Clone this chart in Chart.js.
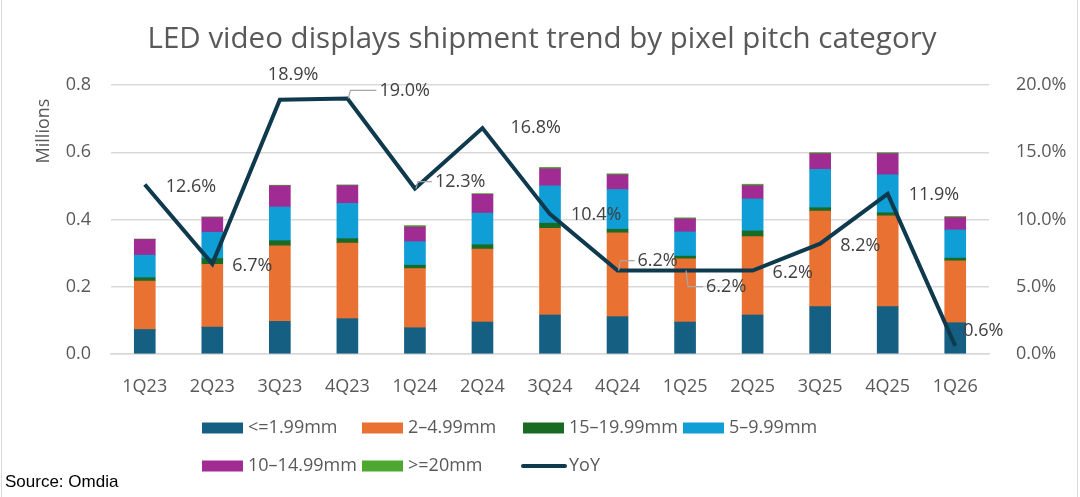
<!DOCTYPE html>
<html>
<head>
<meta charset="utf-8">
<script src="https://cdn.jsdelivr.net/npm/chart.js@4.4.1/dist/chart.umd.min.js"></script>
<style>
  html, body { margin: 0; padding: 0; background: #fff; }
  #wrap { width: 1080px; height: 497px; position: relative; }
</style>
</head>
<body>
<div id="wrap"><canvas id="chart" width="1080" height="497"></canvas></div>
<script>
/* ── DATA ─────────────────────────────────────────────────── */
const quarters = ['1Q23', '2Q23', '3Q23', '4Q23', '1Q24', '2Q24', '3Q24',
                  '4Q24', '1Q25', '2Q25', '3Q25', '4Q25', '1Q26'];

// shipments, millions of units
const pitchUnder2   = [0.073, 0.080, 0.097, 0.105, 0.078, 0.095, 0.116, 0.111, 0.095, 0.116, 0.141, 0.141, 0.093];
const pitch2to5     = [0.144, 0.187, 0.225, 0.225, 0.176, 0.217, 0.258, 0.249, 0.188, 0.233, 0.284, 0.270, 0.184];
const pitch15to20   = [0.010, 0.017, 0.015, 0.013, 0.010, 0.013, 0.015, 0.011, 0.008, 0.017, 0.010, 0.009, 0.008];
const pitch5to10    = [0.067, 0.078, 0.100, 0.105, 0.070, 0.094, 0.111, 0.118, 0.072, 0.095, 0.114, 0.113, 0.084];
const pitch10to15   = [0.047, 0.044, 0.063, 0.053, 0.044, 0.056, 0.051, 0.044, 0.039, 0.040, 0.047, 0.063, 0.037];
const pitchOver20   = [0.001, 0.002, 0.002, 0.002, 0.004, 0.002, 0.004, 0.003, 0.003, 0.004, 0.003, 0.003, 0.003];

// year-over-year growth, percent
const yoy = [12.6, 6.7, 18.9, 19.0, 12.3, 16.8, 10.4, 6.2, 6.2, 6.2, 8.2, 11.9, 0.6];

const leftTicks  = [0, 0.2, 0.4, 0.6, 0.8];
const rightTicks = [0, 5, 10, 15, 20];

/* ── STYLE ────────────────────────────────────────────────── */
const FONT  = "'Open Sans', 'Liberation Sans', sans-serif";
const GREY  = '#595959';
const GRID  = '#d9d9d9';
const LINE  = '#0f3a4e';

// label placement for the YoY points: [dx from point to text left, dy, leader]
const labelPlace = [
  [21, 2, null], [20, 2, null], [-12, -25, null], [32, -8, 'up'],
  [20, -7, 'up'], [28, 0, null], [21, 1, null], [20, -10, 'up'],
  [21, 16, 'down'], [20, 2, null], [20, 2, null], [21, 1, null], [8, -15, null]
];

/* ── PLUGIN: title, axis title, labels, legend, source ────── */
const decor = {
  id: 'decor',
  afterDatasetsDraw(chart) {
    const ctx = chart.ctx;
    const line = chart.getDatasetMeta(chart.data.datasets.length - 1);
    ctx.save();
    ctx.font = `18px ${FONT}`;
    ctx.textBaseline = 'middle';
    ctx.textAlign = 'left';
    line.data.forEach((pt, i) => {
      const [dx, dy, leader] = labelPlace[i];
      const tx = pt.x + dx, ty = pt.y + dy;
      if (leader) {
        ctx.strokeStyle = '#a6a6a6';
        ctx.lineWidth = 1.2;
        ctx.beginPath();
        ctx.moveTo(pt.x + 1, pt.y);
        ctx.lineTo(pt.x + 3, ty);
        ctx.lineTo(tx - 3, ty);
        ctx.stroke();
      }
      ctx.fillStyle = '#404040';
      ctx.fillText(yoy[i].toFixed(1) + '%', tx, ty);
    });
    ctx.restore();
  },
  afterDraw(chart) {
    const ctx = chart.ctx;
    ctx.save();

    // frame
    ctx.strokeStyle = GRID;
    ctx.lineWidth = 1;
    ctx.strokeRect(1.5, -1, 1076, 499);

    // title
    ctx.fillStyle = GREY;
    ctx.textAlign = 'center';
    ctx.textBaseline = 'middle';
    ctx.font = `29.5px ${FONT}`;
    ctx.fillText('LED video displays shipment trend by pixel pitch category', 542, 40);

    // axis title
    ctx.save();
    ctx.translate(44, 131);
    ctx.rotate(-Math.PI / 2);
    ctx.font = `18px ${FONT}`;
    ctx.fillText('Millions', 0, 0);
    ctx.restore();

    // legend
    const slots = [[202, 428], [362, 428], [523, 428], [683, 428],
                   [202, 466], [362, 466], [523, 466]];
    ctx.font = `18px ${FONT}`;
    ctx.textAlign = 'left';
    chart.data.datasets.forEach((ds, i) => {
      const [x, y] = slots[i];
      if (ds.type === 'line') {
        ctx.strokeStyle = ds.borderColor;
        ctx.lineWidth = 4;
        ctx.lineCap = 'round';
        ctx.beginPath();
        ctx.moveTo(x, y);
        ctx.lineTo(x + 42, y);
        ctx.stroke();
      } else {
        ctx.fillStyle = ds.backgroundColor;
        ctx.fillRect(x, y - 5.5, 41, 11);
      }
      ctx.fillStyle = GREY;
      ctx.fillText(ds.label, x + 46, y);
    });

    // source
    ctx.fillStyle = '#000';
    ctx.font = `17px 'Liberation Sans', sans-serif`;
    ctx.fillText('Source: Omdia', 5, 482);
    ctx.restore();
  }
};

/* ── CHART ────────────────────────────────────────────────── */
function bar(label, data, color) {
  return { type: 'bar', label, data, backgroundColor: color, yAxisID: 'y',
           barThickness: 21, order: 1 };
}

new Chart(document.getElementById('chart'), {
  data: {
    labels: quarters,
    datasets: [
      bar('<=1.99mm',    pitchUnder2, '#156082'),
      bar('2–4.99mm',    pitch2to5,   '#e97132'),
      bar('15–19.99mm',  pitch15to20, '#196b24'),
      bar('5–9.99mm',    pitch5to10,  '#0f9ed5'),
      bar('10–14.99mm',  pitch10to15, '#a02b93'),
      bar('>=20mm',      pitchOver20, '#4ea72e'),
      {
        type: 'line', label: 'YoY', data: yoy, yAxisID: 'y1',
        borderColor: LINE, backgroundColor: LINE, borderWidth: 4,
        pointRadius: 0, tension: 0, order: 0,
        borderJoinStyle: 'miter'
      }
    ]
  },
  options: {
    responsive: false,
    animation: false,
    layout: { padding: { top: 85, left: 0, right: 0, bottom: 0 } },
    scales: {
      x: {
        stacked: true,
        grid: { display: false },
        border: { color: GRID, width: 1.5 },
        ticks: { color: GREY, font: { family: FONT, size: 18 }, padding: 14 },
        afterFit: s => { s.height = 143; }
      },
      y: {
        stacked: true,
        min: 0, max: 0.8,
        afterBuildTicks: s => { s.ticks = leftTicks.map(v => ({ value: v })); },
        grid: { color: GRID, lineWidth: 1.5, drawTicks: false },
        border: { display: false },
        ticks: { color: GREY, font: { family: FONT, size: 18 }, padding: 20,
                 callback: v => v.toFixed(1) },
        afterFit: s => { s.width = 111; }
      },
      y1: {
        position: 'right',
        min: 0, max: 20,
        afterBuildTicks: s => { s.ticks = rightTicks.map(v => ({ value: v })); },
        grid: { display: false },
        border: { display: false },
        ticks: { color: GREY, font: { family: FONT, size: 18 }, padding: 19,
                 callback: v => v.toFixed(1) + '%' },
        afterFit: s => { s.width = 91; }
      }
    },
    plugins: {
      legend: { display: false },
      title: { display: false },
      tooltip: { enabled: false }
    }
  },
  plugins: [decor]
});
</script>
</body>
</html>
